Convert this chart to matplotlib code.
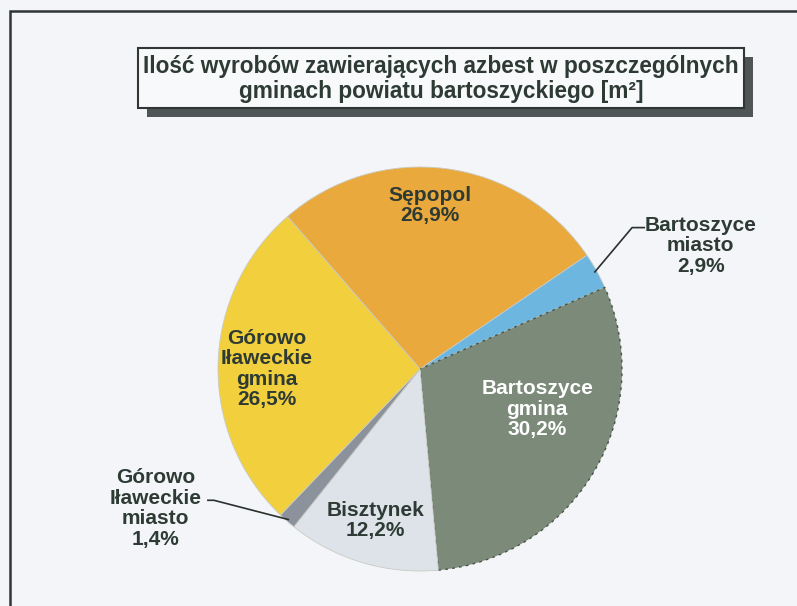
import numpy as np
import matplotlib.pyplot as plt
from matplotlib.patches import Rectangle

# =========================
# Data
# =========================

gminy = [
    "Sępopol",
    "Bartoszyce\nmiasto",
    "Bartoszyce\ngmina",
    "Bisztynek",
    "Górowo\nIławeckie\nmiasto",
    "Górowo\nIławeckie\ngmina",
]
udzial = [26.9, 2.9, 30.2, 12.2, 1.4, 26.5]
kolory = ["#e9a93c", "#6db6df", "#7b8a79", "#dde3e9", "#8b929b", "#f1cf3d"]

title = "Ilość wyrobów zawierających azbest w poszczególnych\ngminach powiatu bartoszyckiego [m²]"

# =========================
# Figure
# =========================

W, H = 797, 606
BG = "#f3f5f8"
TXT = "#2e3b34"
plt.rcParams["font.family"] = ["Liberation Sans", "DejaVu Sans"]

fig = plt.figure(figsize=(W / 100, H / 100), dpi=100)
fig.patch.set_facecolor(BG)


def px(x, y):
    return x / W, 1 - y / H


# outer frame (runs off the right / bottom edge of the scan)
frame = Rectangle(px(10, 700), 900 / W, 689 / H, transform=fig.transFigure,
                  fill=False, edgecolor="#2f3633", linewidth=1.8)
fig.add_artist(frame)

# title box with shadow
bx0, by0, bx1, by1 = 138, 48, 744, 108
shadow = Rectangle(px(bx0 + 9, by1 + 9), (bx1 - bx0) / W, (by1 - by0) / H,
                   transform=fig.transFigure, facecolor="#4f5454", edgecolor="none")
box = Rectangle(px(bx0, by1), (bx1 - bx0) / W, (by1 - by0) / H,
                transform=fig.transFigure, facecolor="#f8f9fb",
                edgecolor="#2f3633", linewidth=1.5)
fig.add_artist(shadow)
fig.add_artist(box)
fig.text(*px((bx0 + bx1) / 2, (by0 + by1) / 2 + 1), title, ha="center", va="center",
         fontsize=16.3, fontweight="bold", color=TXT, linespacing=1.1)

# =========================
# Pie
# =========================

cx, cy, r = 420, 369, 202
ax = fig.add_axes([(cx - r) / W, (H - cy - r) / H, 2 * r / W, 2 * r / H])
wedges, _ = ax.pie(udzial, colors=kolory, startangle=131, counterclock=False,
                   wedgeprops=dict(linewidth=0.6, edgecolor="#c9cbc4"))
wedges[2].set_edgecolor("#4a5548")
wedges[2].set_linestyle((0, (2, 3)))
wedges[2].set_linewidth(1.0)
ax.set_xlim(-1, 1)
ax.set_ylim(-1, 1)
ax.set_aspect("equal")
ax.axis("off")

labels = [f"{g}\n{str(v).replace('.', ',')}%" for g, v in zip(gminy, udzial)]

# label positions in pie units (radius = 1)
label_pos = [(0.05, 0.81), (1.39, 0.61), (0.58, -0.20),
             (-0.22, -0.75), (-1.31, -0.69), (-0.76, 0.0)]
label_col = [TXT, TXT, "white", TXT, TXT, TXT]

for lab, (lx, ly), c in zip(labels, label_pos, label_col):
    ax.text(lx, ly, lab, ha="center", va="center", fontsize=15,
            fontweight="bold", color=c, linespacing=1.1)

# leader lines for the two small slices
leaders = {1: [(1.05, 0.70), (1.11, 0.70)], 4: [(-1.02, -0.65), (-1.05, -0.65)]}
for i, pts in leaders.items():
    w = wedges[i]
    mid = np.deg2rad((w.theta1 + w.theta2) / 2)
    xs = [np.cos(mid) * 0.99] + [p[0] for p in pts]
    ys = [np.sin(mid) * 0.99] + [p[1] for p in pts]
    ax.plot(xs, ys, color="#2a302c", linewidth=1.2, clip_on=False)

fig.savefig("out.png", dpi=100, facecolor=BG)
